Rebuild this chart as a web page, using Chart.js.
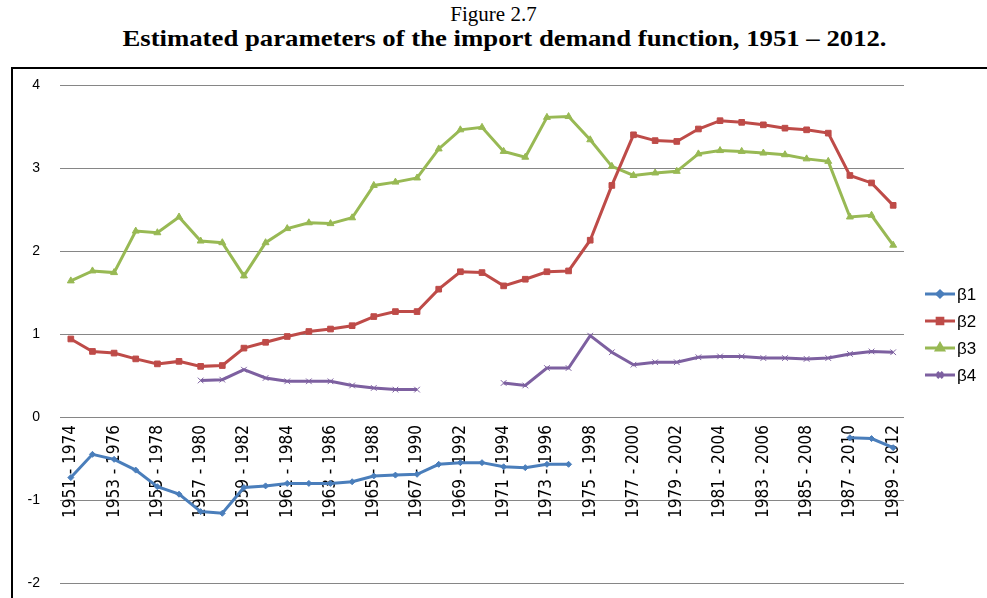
<!DOCTYPE html>
<html>
<head>
<meta charset="utf-8">
<script src="https://cdn.jsdelivr.net/npm/chart.js@4.4.0/dist/chart.umd.min.js"></script>
<style>
  html, body { margin: 0; padding: 0; background: #fff; }
  #page { position: relative; width: 987px; height: 598px; overflow: hidden; }
  .title { position: absolute; left: 0; width: 987px; text-align: center; font-family: "Liberation Serif", "Times New Roman", serif; color: #000; white-space: nowrap; }
  #t1 { top: 2px; font-size: 21px; }
  #t2 { top: 25px; left: 11px; font-size: 24px; font-weight: bold; transform: scaleX(1.114); transform-origin: 50% 50%; }
  #frame { position: absolute; left: 11px; top: 67px; width: 1000px; height: 600px; border: 2px solid #000; box-shadow: 1px 1px 0 #777; }
  #wrap { position: absolute; left: 0; top: 0; width: 987px; height: 598px; }
</style>
</head>
<body>
<div id="page">
  <div class="title" id="t1">Figure 2.7</div>
  <div class="title" id="t2">Estimated parameters of the import demand function, 1951 – 2012.</div>
  <div id="frame"></div>
  <div id="wrap"><canvas id="chart"></canvas></div>
</div>
<script>
const startYears = [1951, 1952, 1953, 1954, 1955, 1956, 1957, 1958, 1959, 1960,
  1961, 1962, 1963, 1964, 1965, 1966, 1967, 1968, 1969, 1970,
  1971, 1972, 1973, 1974, 1975, 1976, 1977, 1978, 1979, 1980,
  1981, 1982, 1983, 1984, 1985, 1986, 1987, 1988, 1989];
const categories = startYears.map((y) => `${y} - ${y + 23}`);

const beta1 = [-0.73, -0.45, -0.51, -0.64, -0.84, -0.93, -1.14, -1.16, -0.85, -0.83,
  -0.80, -0.80, -0.80, -0.78, -0.71, -0.70, -0.69, -0.57, -0.55, -0.55,
  -0.60, -0.61, -0.57, -0.57, null, null, null, null, null, null,
  null, null, null, null, null, null, -0.25, -0.26, -0.37];
const beta2 = [0.94, 0.79, 0.77, 0.70, 0.64, 0.67, 0.61, 0.62, 0.83, 0.90,
  0.97, 1.03, 1.06, 1.10, 1.21, 1.27, 1.27, 1.54, 1.75, 1.74,
  1.58, 1.66, 1.75, 1.76, 2.13, 2.79, 3.40, 3.33, 3.32, 3.47,
  3.57, 3.55, 3.52, 3.48, 3.46, 3.42, 2.91, 2.82, 2.55];
const beta3 = [1.64, 1.76, 1.74, 2.24, 2.22, 2.41, 2.12, 2.10, 1.70, 2.10,
  2.27, 2.34, 2.33, 2.40, 2.79, 2.83, 2.88, 3.23, 3.46, 3.49,
  3.20, 3.13, 3.61, 3.62, 3.34, 3.02, 2.91, 2.94, 2.96, 3.17,
  3.21, 3.20, 3.18, 3.16, 3.11, 3.08, 2.41, 2.43, 2.07];
const beta4 = [null, null, null, null, null, null, 0.44, 0.45, 0.57, 0.47,
  0.43, 0.43, 0.43, 0.38, 0.35, 0.33, 0.33, null, null, null,
  0.41, 0.38, 0.59, 0.59, 0.98, 0.78, 0.63, 0.66, 0.66, 0.72,
  0.73, 0.73, 0.71, 0.71, 0.70, 0.71, 0.76, 0.79, 0.78];

const yTicks = [-2, -1, 0, 1, 2, 3, 4];

const series = [
  { label: "β1", data: beta1, color: "#4A7EBB", style: "rectRot", radius: 3 },
  { label: "β2", data: beta2, color: "#BE4B48", style: "rect", radius: 4 },
  { label: "β3", data: beta3, color: "#98B954", style: "triangle", radius: 4 },
  { label: "β4", data: beta4, color: "#7D60A0", style: "crossRot", radius: 4 },
];

// legend on the right: line with marker, then label
const sideLegend = {
  id: "sideLegend",
  afterDraw(chart) {
    const ctx = chart.ctx;
    const x0 = 925, x1 = 955;
    const ys = [294, 321, 348, 375];
    ctx.save();
    series.forEach((s, i) => {
      const y = ys[i];
      ctx.strokeStyle = s.color;
      ctx.lineWidth = 3;
      ctx.beginPath();
      ctx.moveTo(x0, y);
      ctx.lineTo(x1, y);
      ctx.stroke();
      ctx.fillStyle = s.color;
      Chart.helpers.drawPoint(ctx, { pointStyle: s.style, radius: s.radius, borderWidth: 1.5, rotation: 0 }, (x0 + x1) / 2, y);
      ctx.fillStyle = "#000";
      ctx.font = '17px "Liberation Sans", Arial, sans-serif';
      ctx.textBaseline = "middle";
      ctx.textAlign = "left";
      ctx.fillText(s.label, x1 + 2, y + 1);
    });
    ctx.restore();
  },
};

new Chart(document.getElementById("chart"), {
  type: "line",
  data: {
    labels: categories,
    datasets: series.map((s) => ({
      label: s.label,
      data: s.data,
      borderColor: s.color,
      backgroundColor: s.color,
      borderWidth: 3,
      pointStyle: s.style,
      pointRadius: s.radius,
      pointBorderWidth: 1,
      pointHoverRadius: s.radius,
      tension: 0,
      spanGaps: false,
    })),
  },
  options: {
    responsive: true,
    maintainAspectRatio: false,
    animation: false,
    layout: { padding: { left: 0, top: 85, right: 83, bottom: 15 } },
    plugins: { legend: { display: false }, tooltip: { enabled: false } },
    scales: {
      x: {
        type: "category",
        position: { y: 0 },
        offset: true,
        grid: { display: false, drawTicks: false },
        border: { display: false },
        ticks: {
          autoSkip: false,
          maxRotation: 90,
          minRotation: 90,
          padding: 8,
          color: "#000",
          font: { family: '"Liberation Sans Narrow", "DejaVu Sans Condensed", Arial, sans-serif', size: 17 },
          callback(value, index) {
            return index % 2 === 0 ? categories[index] : "";
          },
        },
      },
      y: {
        min: -2,
        max: 4,
        afterFit(scale) { scale.width = 60; },
        afterBuildTicks(scale) { scale.ticks = yTicks.map((v) => ({ value: v })); },
        // invisible tick marks keep the labels away from the plot without extra bottom padding
        grid: { color: "#868686", lineWidth: 1, drawTicks: true, tickLength: 20, tickColor: "rgba(0,0,0,0)" },
        border: { display: false },
        ticks: {
          padding: 0,
          color: "#000",
          font: { family: '"Liberation Sans", Arial, sans-serif', size: 14 },
        },
      },
    },
  },
  plugins: [sideLegend],
});
</script>
</body>
</html>
